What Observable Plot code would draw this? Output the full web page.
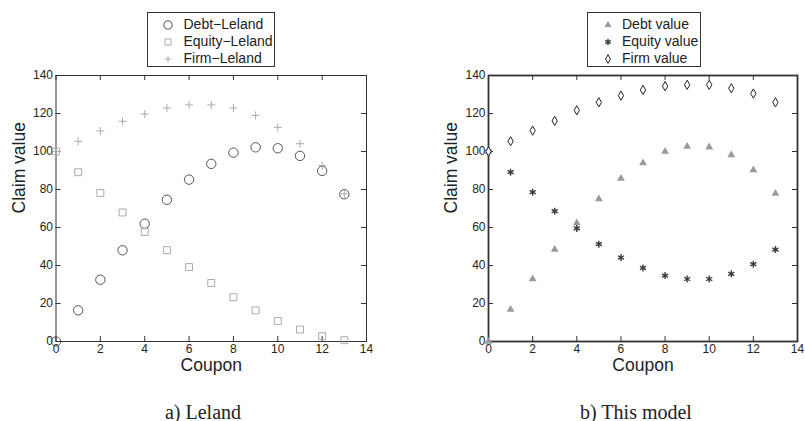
<!DOCTYPE html>
<html><head><meta charset="utf-8">
<script src="https://cdn.jsdelivr.net/npm/d3@7"></script>
<script src="https://cdn.jsdelivr.net/npm/@observablehq/plot@0.6"></script>
<style>
html,body{margin:0;padding:0;background:#fff;}
#root{position:relative;width:805px;height:421px;overflow:hidden;font-family:"Liberation Sans",Arial,sans-serif;}
.panel{position:absolute;top:0;}
.legend{position:absolute;border:1px solid #333;background:#fff;box-sizing:border-box;}
.row{position:absolute;font-size:14px;color:#222;white-space:nowrap;line-height:16px;}
.caption{position:absolute;font-family:"Liberation Serif","Times New Roman",serif;font-size:20px;color:#222;transform:translate(-50%,-50%);white-space:nowrap;}
</style></head><body><div id="root"></div>
<script>
// ---- data ----
const coupons = [0,1,2,3,4,5,6,7,8,9,10,11,12,13];
const lelandDebt   = [0,16.4,32.5,48,62,74.6,85.2,93.5,99.4,102.2,101.7,97.7,89.8,77.5];
const lelandEquity = [100,89.1,78.2,67.9,57.6,48.1,39.2,30.8,23.3,16.4,10.8,6.3,2.8,0.7];
const lelandFirm   = [100,105.4,110.8,115.9,119.7,122.9,124.5,124.5,122.9,119,112.7,104.1,92.6,77.7];
const modelDebt    = [0,16.8,32.9,48.4,62.4,75,85.8,94,100,102.6,102.3,98.1,90.3,77.9];
const modelEquity  = [100,89.1,78.6,68.6,59.5,51.2,44.2,38.7,34.7,32.9,32.9,35.6,40.7,48.4];
const modelFirm    = [100,105.4,111,116.1,121.7,125.9,129.4,132.4,134.4,135.1,135.1,133.3,130.5,125.9];
const xTicks = [0,2,4,6,8,10,12,14];
const yTicks = [0,20,40,60,80,100,120,140];
const leftLegend  = ["Debt\u2212Leland","Equity\u2212Leland","Firm\u2212Leland"];
const rightLegend = ["Debt value","Equity value","Firm value"];
const captions = ["a) Leland","b) This model"];
const xLabel = "Coupon", yLabel = "Claim value";

const leland = coupons.map((c,i)=>({coupon:c, debt:lelandDebt[i], equity:lelandEquity[i], firm:lelandFirm[i]}));
const model  = coupons.map((c,i)=>({coupon:c, debt:modelDebt[i], equity:modelEquity[i], firm:modelFirm[i]}));

const styles = {
  left: [
    {symbol:"circle", r:4.7, lr:4.1, stroke:"#555", fill:"none", strokeWidth:1, key:"debt"},
    {symbol:"square", r:3.9, lr:3.4, stroke:"#aaa", fill:"none", strokeWidth:1, key:"equity"},
    {symbol:"plus",   r:2.7, lr:2.2, stroke:"#aaa", fill:"none", strokeWidth:1, key:"firm"}
  ],
  right: [
    {symbol:"triangle", r:2.9, lr:2.6, stroke:"none", fill:"#9a9a9a", strokeWidth:1, key:"debt"},
    {symbol:"asterisk", r:3.3, lr:3.0, stroke:"#3a3a3a", fill:"none", strokeWidth:1.4, key:"equity"},
    {symbol:"diamond",  r:2.8, lr:2.6, stroke:"#222", fill:"#fff", strokeWidth:1, key:"firm"}
  ]
};

function panel({width, marginLeft, marginRight, frameWidth, data, st}) {
  const H = 421, mt = 75, mb = 80;
  const innerW = width - marginLeft - marginRight, innerH = H - mt - mb;
  return Plot.plot({
    width, height: H, marginTop: mt, marginBottom: mb, marginLeft, marginRight,
    style: {fontFamily: "Liberation Sans, Arial, sans-serif", color: "#222", background: "transparent", overflow: "visible"},
    x: {domain: [0,14]},
    y: {domain: [0,140]},
    marks: [
      Plot.frame({stroke:"#333", strokeWidth: frameWidth}),
      Plot.tickX(xTicks, {x: d=>d, insetTop: innerH-5, stroke:"#333"}),
      Plot.tickX(xTicks, {x: d=>d, insetBottom: innerH-5, stroke:"#333"}),
      Plot.tickY(yTicks, {y: d=>d, insetLeft: innerW-5, stroke:"#333"}),
      Plot.tickY(yTicks, {y: d=>d, insetRight: innerW-5, stroke:"#333"}),
      Plot.axisX(xTicks, {tickSize:0, tickPadding:3, fontSize:12, label:null}),
      Plot.axisY(yTicks, {tickSize:0, tickPadding:3, fontSize:12, label:null}),
      Plot.text([xLabel], {text: d=>d, frameAnchor:"bottom", dy: 29, fontSize: 17.5, fill:"#222"}),
      Plot.text([yLabel], {text: d=>d, frameAnchor:"left", dx: -37, dy: 5, rotate: -90, fontSize: 17.5, fill:"#222"}),
      ...st.map(s => Plot.dot(data, {x:"coupon", y: s.key, symbol: s.symbol, r: s.r, stroke: s.stroke, fill: s.fill, strokeWidth: s.strokeWidth}))
    ]
  });
}

const root = document.getElementById("root");
function place(el, left) { const d = document.createElement("div"); d.className="panel"; d.style.left = left+"px"; d.appendChild(el); root.appendChild(d); }
place(panel({width:420, marginLeft:55.5, marginRight:54, frameWidth:1, data:leland, st:styles.left}), 0);
place(panel({width:385, marginLeft:68, marginRight:8, frameWidth:1.8, data:model, st:styles.right}), 420);

const symMap = {circle:d3.symbolCircle, square:d3.symbolSquare, plus:d3.symbolPlus, triangle:d3.symbolTriangle, asterisk:d3.symbolAsterisk, diamond:d3.symbolDiamond};
function legend({left, top, width, height, markerX, textX, rowYs, labels, st}) {
  const box = document.createElement("div");
  box.className = "legend";
  Object.assign(box.style, {left:left+"px", top:top+"px", width:width+"px", height:height+"px"});
  labels.forEach((lab, i) => {
    const s = st[i];
    const svg = d3.create("svg").attr("width",16).attr("height",16)
      .style("position","absolute").style("left",(markerX-left-8)+"px").style("top",(rowYs[i]-top-8)+"px").style("overflow","visible");
    svg.append("path").attr("transform","translate(8,8)")
      .attr("d", d3.symbol(symMap[s.symbol], Math.PI*s.lr*s.lr)())
      .attr("fill", s.fill).attr("stroke", s.stroke).attr("stroke-width", s.strokeWidth);
    box.appendChild(svg.node());
    const t = document.createElement("div");
    t.className = "row"; t.textContent = lab;
    t.style.left = (textX-left)+"px"; t.style.top = (rowYs[i]-top-9)+"px";
    box.appendChild(t);
  });
  root.appendChild(box);
}
legend({left:147, top:12, width:128, height:55, markerX:166.5, textX:182.5, rowYs:[23.5,40.5,57.5], labels:leftLegend, st:styles.left});
legend({left:587, top:12, width:114, height:55, markerX:606.5, textX:621, rowYs:[23.5,40.5,57.5], labels:rightLegend, st:styles.right});

[[203,412],[636,412]].forEach(([x,y],i)=>{
  const c = document.createElement("div"); c.className="caption"; c.textContent = captions[i];
  c.style.left = x+"px"; c.style.top = y+"px"; root.appendChild(c);
});
</script></body></html>
